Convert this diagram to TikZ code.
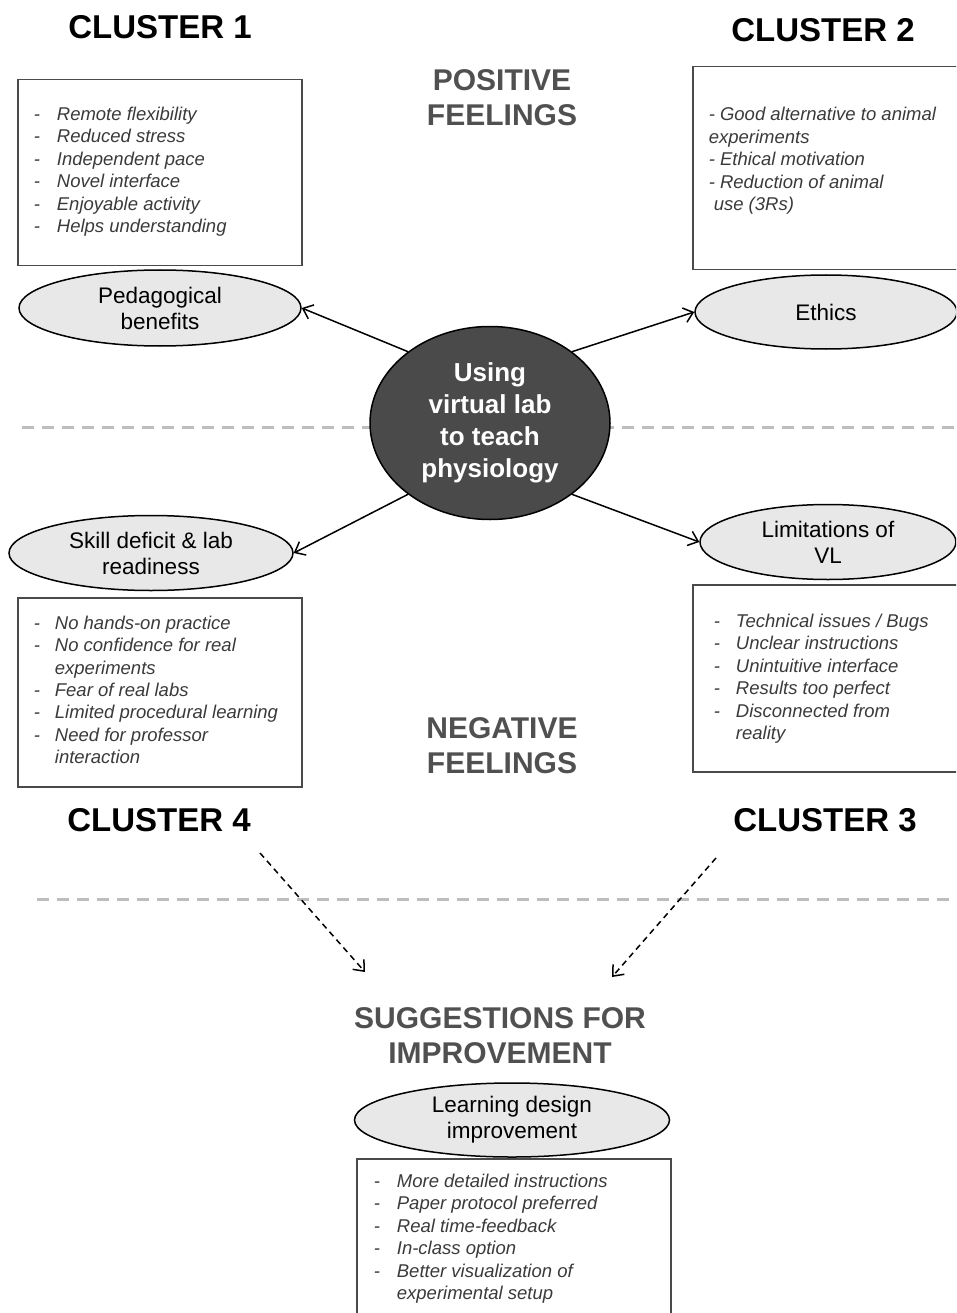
\documentclass[tikz,border=0pt]{standalone}
\usepackage{fontspec}
\setmainfont{Liberation Sans}
\usetikzlibrary{arrows.meta,shapes.geometric}
\definecolor{hubgray}{HTML}{4A4A4A}
\definecolor{titlegray}{HTML}{505050}
\definecolor{itemgray}{HTML}{3A3A3A}
\definecolor{boxgray}{HTML}{4A4A4A}
\definecolor{themefill}{HTML}{E8E8E8}
\definecolor{divgray}{HTML}{BDBDBD}
\begin{document}
\begin{tikzpicture}[x=1pt,y=-1pt,line width=1.5pt,
  clusterlbl/.style={inner sep=0pt,font=\fontsize{33}{38}\selectfont\bfseries},
  feellbl/.style={inner sep=0pt,align=center,text=titlegray,font=\fontsize{30}{35}\selectfont\bfseries},
  theme/.style={ellipse,draw,fill=themefill,inner sep=0pt,align=center,font=\fontsize{22.5}{26}\selectfont},
  itembox/.style={rectangle,draw=boxgray,inner sep=0pt,anchor=north west},
  items/.style={inner sep=0pt,anchor=west,align=left,text=itemgray,font=\fontsize{18.5}{22.4}\selectfont\itshape},
  link/.style={-{Straight Barb[length=9pt,width=15pt]}},
  hint/.style={dash pattern=on 6pt off 4.5pt,-{Straight Barb[length=9pt,width=15pt]}},
  divider/.style={divgray,line width=3pt,dash pattern=on 12pt off 8pt}]
\clip (0,0) rectangle (956,1313);
\draw[divider] (22,427) -- (956,427);
\draw[divider] (37,899) -- (956,899);
\node[clusterlbl] (c1) at (160,27) {CLUSTER 1};
\node[clusterlbl] (c2) at (823,30) {CLUSTER 2};
\node[clusterlbl] (c4) at (159,820) {CLUSTER 4};
\node[clusterlbl] (c3) at (825,820) {CLUSTER 3};
\node[feellbl] (pos) at (502,98) {POSITIVE\\FEELINGS};
\node[feellbl] (neg) at (502,746) {NEGATIVE\\FEELINGS};
\node[feellbl] (sugg) at (500,1036) {SUGGESTIONS FOR\\IMPROVEMENT};
\node[itembox,minimum width=284,minimum height=186] (box1) at (17,79) {};
\node[items] (list1) at (33,172) {\begin{tabular}{@{}l@{\hspace{17pt}}l@{}}
- & Remote flexibility\\
- & Reduced stress\\
- & Independent pace\\
- & Novel interface\\
- & Enjoyable activity\\
- & Helps understanding
\end{tabular}};
\node[itembox,minimum width=275,minimum height=203] (box2) at (692,66) {};
\node[items] (list2) at (708,161) {- Good alternative to animal\\experiments\\- Ethical motivation\\- Reduction of animal\\\hspace*{5pt}use (3Rs)};
\node[itembox,minimum width=284,minimum height=189] (box4) at (17,597) {};
\node[items] (list4) at (33,692) {\begin{tabular}{@{}l@{\hspace{15pt}}l@{}}
- & No hands-on practice\\
- & No confidence for real\\
  & experiments\\
- & Fear of real labs\\
- & Limited procedural learning\\
- & Need for professor\\
  & interaction
\end{tabular}};
\node[itembox,minimum width=275,minimum height=187] (box3) at (692,584) {};
\node[items] (list3) at (713,679) {\begin{tabular}{@{}l@{\hspace{16pt}}l@{}}
- & Technical issues / Bugs\\
- & Unclear instructions\\
- & Unintuitive interface\\
- & Results too perfect\\
- & Disconnected from\\
  & reality
\end{tabular}};
\node[itembox,minimum width=314,minimum height=170] (box5) at (356,1158) {};
\node[items] (list5) at (373,1239) {\begin{tabular}{@{}l@{\hspace{17pt}}l@{}}
- & More detailed instructions\\
- & Paper protocol preferred\\
- & Real time-feedback\\
- & In-class option\\
- & Better visualization of\\
  & experimental setup
\end{tabular}};
\node[ellipse,draw,fill=hubgray,inner sep=0pt,minimum width=240,minimum height=193,align=center,text=white,font=\fontsize{26}{32}\selectfont\bfseries] (hub) at (490,423) {Using\\virtual lab\\to teach\\physiology};
\node[theme,minimum width=282,minimum height=76] (peda) at (160,308) {Pedagogical\\benefits};
\node[theme,minimum width=262,minimum height=74] (ethics) at (826,312) {Ethics};
\node[theme,minimum width=284,minimum height=75] (skill) at (151,553) {Skill deficit \& lab\\readiness};
\node[theme,minimum width=256,minimum height=75] (limits) at (828,542) {Limitations of\\VL};
\node[theme,minimum width=315,minimum height=74] (learn) at (512,1120) {Learning design\\improvement};
\draw[link] (hub.139) -- (peda.east);
\draw[link] (hub.41) -- (ethics.west);
\draw[link] (hub.221) -- (skill.east);
\draw[link] (hub.319) -- (limits.west);
\coordinate (s4) at (260,853);
\coordinate (t4) at (365,972);
\coordinate (s3) at (716,858);
\coordinate (t3) at (612,977);
\draw[hint] (s4) -- (t4);
\draw[hint] (s3) -- (t3);
\end{tikzpicture}
\end{document}
